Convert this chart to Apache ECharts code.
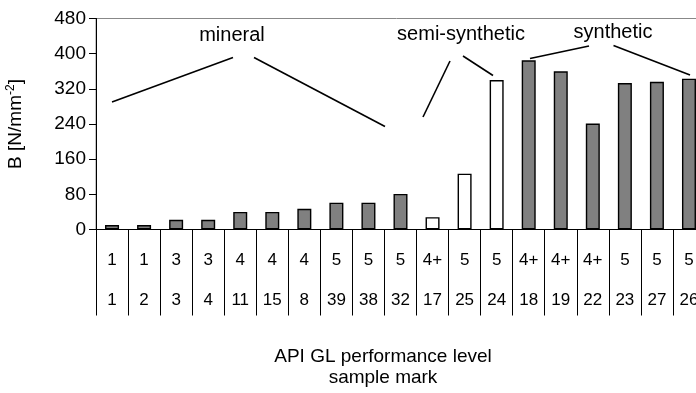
<!DOCTYPE html>
<html>
<head>
<meta charset="utf-8">
<script src="https://cdn.jsdelivr.net/npm/echarts@6/dist/echarts.min.js"></script>
<style>
html,body{margin:0;padding:0;background:#fff;}
#c{width:696px;height:393px;}
</style>
</head>
<body>
<div id="c"></div>
<script>
// Data
var apiLevels = ['1','1','3','3','4','4','4','5','5','5','4+','5','5','4+','4+','4+','5','5','5'];
var sampleMarks = ['1','2','3','4','11','15','8','39','38','32','17','25','24','18','19','22','23','27','26'];
var strengthB = [10,10,22,22,40,40,47,61,61,81,28,127,340,385,360,241,333,336,343];
var oilType = ['mineral','mineral','mineral','mineral','mineral','mineral','mineral','mineral','mineral','mineral',
  'semi-synthetic','semi-synthetic','semi-synthetic',
  'synthetic','synthetic','synthetic','synthetic','synthetic','synthetic'];
var yTicks = [0, 80, 160, 240, 320, 400, 480];

var fillByType = {'mineral':'#808080','semi-synthetic':'#ffffff','synthetic':'#808080'};
var FONT = '"Liberation Sans", Arial, sans-serif';

var chart = echarts.init(document.getElementById('c'), null, {renderer:'canvas'});

var barData = strengthB.map(function(v, i){
  return {value: v, itemStyle: {color: fillByType[oilType[i]]}};
});

var option = {
  animation: false,
  backgroundColor: '#fff',
  grid: {left: 96, right: -9, top: 18.5, bottom: 163.5, show: true, borderColor: '#888', borderWidth: 1,
         backgroundColor: 'transparent', containLabel: false, outerBoundsMode: 'none'},
  xAxis: [{
    type: 'category',
    data: apiLevels,
    position: 'bottom',
    boundaryGap: true,
    axisLine: {show: true, lineStyle: {color: '#000', width: 1}},
    axisTick: {show: true, interval: 0, length: 86, lineStyle: {color: '#000', width: 1}},
    axisLabel: {interval: 0, margin: 22, fontSize: 17, color: '#000', fontFamily: FONT}
  }, {
    type: 'category',
    data: sampleMarks,
    position: 'bottom',
    boundaryGap: true,
    axisLine: {show: false},
    axisTick: {show: false},
    axisLabel: {interval: 0, margin: 62, fontSize: 17, color: '#000', fontFamily: FONT}
  }],
  yAxis: {
    type: 'value',
    min: yTicks[0], max: yTicks[yTicks.length-1], interval: 80,
    axisLine: {show: true, lineStyle: {color: '#000', width: 1}},
    axisTick: {show: true, length: 7, lineStyle: {color: '#000'}},
    splitLine: {show: false},
    axisLabel: {fontSize: 19, color: '#000', margin: 10, fontFamily: FONT},
    name: '{a|B [N/mm}{s|-2}{a|]}',
    nameLocation: 'middle',
    nameRotate: 90,
    nameGap: 70,
    nameTextStyle: {
      color: '#000', fontFamily: FONT,
      rich: {
        a: {fontSize: 19, color: '#000', fontFamily: FONT},
        s: {fontSize: 12, color: '#000', fontFamily: FONT, verticalAlign: 'bottom', padding: [0, 0, 9, 0]}
      }
    }
  },
  series: [{
    type: 'bar',
    xAxisIndex: 0,
    data: barData,
    barWidth: 14,
    itemStyle: {borderColor: '#000', borderWidth: 1.4}
  }],
  graphic: [
    {type:'text', x: 232, y: 35, style:{text:'mineral', font:'20px ' + FONT, fill:'#000', textAlign:'center', textVerticalAlign:'middle'}},
    {type:'text', x: 461, y: 34, style:{text:'semi-synthetic', font:'20px ' + FONT, fill:'#000', textAlign:'center', textVerticalAlign:'middle'}},
    {type:'text', x: 613, y: 32, style:{text:'synthetic', font:'20px ' + FONT, fill:'#000', textAlign:'center', textVerticalAlign:'middle'}},
    {type:'line', shape:{x1:112, y1:102, x2:233, y2:57.5}, style:{stroke:'#000', lineWidth:1.6}},
    {type:'line', shape:{x1:254, y1:57.5, x2:385, y2:126.5}, style:{stroke:'#000', lineWidth:1.6}},
    {type:'line', shape:{x1:450, y1:61, x2:423, y2:117}, style:{stroke:'#000', lineWidth:1.6}},
    {type:'line', shape:{x1:463, y1:56, x2:493, y2:75.5}, style:{stroke:'#000', lineWidth:1.6}},
    {type:'line', shape:{x1:589, y1:46, x2:530, y2:58.5}, style:{stroke:'#000', lineWidth:1.6}},
    {type:'line', shape:{x1:613.5, y1:45.5, x2:690, y2:75}, style:{stroke:'#000', lineWidth:1.6}},
    {type:'text', x: 383, y: 357, style:{text:'API GL performance level', font:'19px ' + FONT, fill:'#000', textAlign:'center', textVerticalAlign:'middle'}},
    {type:'text', x: 383, y: 378, style:{text:'sample mark', font:'19px ' + FONT, fill:'#000', textAlign:'center', textVerticalAlign:'middle'}}
  ]
};
chart.setOption(option);
</script>
</body>
</html>
